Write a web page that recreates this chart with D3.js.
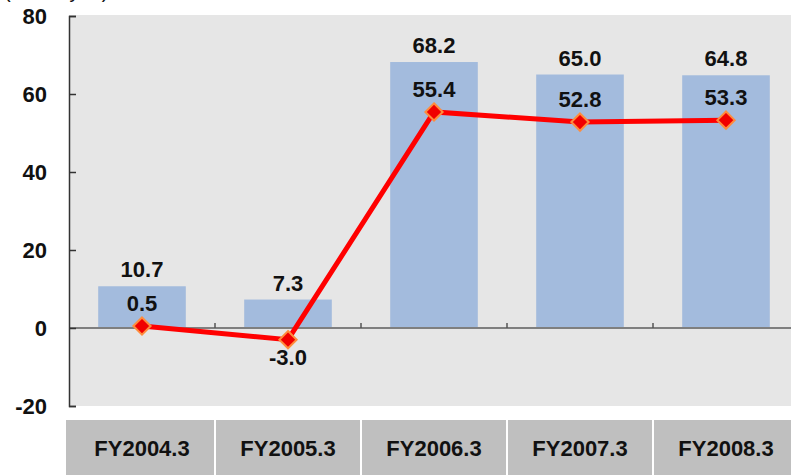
<!DOCTYPE html>
<html>
<head>
<meta charset="utf-8">
<script src="https://cdn.jsdelivr.net/npm/d3@7"></script>
<style>
  body { margin: 0; background: #fff; }
  text { font-family: "Liberation Sans", Arial, sans-serif; font-weight: bold; fill: #111; }
</style>
</head>
<body>
<svg width="791" height="475"></svg>
<script>
// chart data
var categories = ['FY2004.3', 'FY2005.3', 'FY2006.3', 'FY2007.3', 'FY2008.3'];
var barValues = [10.7, 7.3, 68.2, 65.0, 64.8];
var lineValues = [0.5, -3.0, 55.4, 52.8, 53.3];
var yTicks = [-20, 0, 20, 40, 60, 80];

var svg = d3.select('svg');
var plotLeft = 69, plotTop = 16, plotBottom = 406, band = 146;

var x = d3.scaleBand().domain(categories).range([plotLeft, plotLeft + band * categories.length]).padding(0);
var y = d3.scaleLinear().domain([-20, 80]).range([plotBottom, plotTop]);
var barW = x.bandwidth() * 0.6;
var cx = function(d) { return x(d) + x.bandwidth() / 2; };

// unit label, cut off at the top like the original
svg.append('text').attr('x', 4).attr('y', -2).style('font-size', '20px').style('font-weight', 'normal').text('(Billion yen)');

// plot background
svg.append('rect').attr('x', plotLeft).attr('y', plotTop - 1).attr('width', 791 - plotLeft).attr('height', plotBottom - plotTop + 1).attr('fill', '#e6e6e6');

// bars
svg.selectAll('rect.bar').data(barValues).enter().append('rect').attr('class', 'bar')
  .attr('x', function(d, i) { return cx(categories[i]) - barW / 2; })
  .attr('y', function(d) { return y(d); })
  .attr('width', barW)
  .attr('height', function(d) { return y(0) - y(d); })
  .attr('fill', '#a3bbdd');

// zero line with small ticks at band edges
svg.append('line').attr('x1', plotLeft).attr('x2', 791).attr('y1', y(0)).attr('y2', y(0)).attr('stroke', '#7f7f7f').attr('stroke-width', 2);
svg.selectAll('line.xtick').data(categories.slice(1)).enter().append('line').attr('class', 'xtick')
  .attr('x1', function(d) { return x(d); }).attr('x2', function(d) { return x(d); })
  .attr('y1', y(0)).attr('y2', y(0) - 5).attr('stroke', '#555').attr('stroke-width', 1.5);

// y axis: ticks inside the plot
var yAxis = d3.axisRight(y).tickValues(yTicks).tickSize(7).tickFormat('');
var ag = svg.append('g').attr('transform', 'translate(' + plotLeft + ',0)').call(yAxis);
ag.select('.domain').attr('stroke', '#333').attr('stroke-width', 1.5);
ag.selectAll('.tick line').attr('stroke', '#333').attr('stroke-width', 1.5);
svg.selectAll('text.ylab').data(yTicks).enter().append('text').attr('class', 'ylab')
  .attr('x', 47).attr('y', function(d) { return y(d) + 8; })
  .attr('text-anchor', 'end').style('font-size', '22px')
  .text(function(d) { return d; });

// bar labels
svg.selectAll('text.blab').data(barValues).enter().append('text').attr('class', 'blab')
  .attr('x', function(d, i) { return cx(categories[i]); })
  .attr('y', function(d) { return y(d) - 9; })
  .attr('text-anchor', 'middle').style('font-size', '22px')
  .text(function(d) { return d.toFixed(1); });

// line
var line = d3.line().x(function(d, i) { return cx(categories[i]); }).y(function(d) { return y(d); });
svg.append('path').datum(lineValues).attr('d', line).attr('fill', 'none').attr('stroke', '#ff0000').attr('stroke-width', 5);

// diamond markers
svg.selectAll('path.mark').data(lineValues).enter().append('path').attr('class', 'mark')
  .attr('d', d3.symbol().type(d3.symbolDiamond2).size(190))
  .attr('transform', function(d, i) { return 'translate(' + cx(categories[i]) + ',' + y(d) + ')'; })
  .attr('fill', '#f00000').attr('stroke', '#ff8c3c').attr('stroke-width', 2);

// line labels
svg.selectAll('text.llab').data(lineValues).enter().append('text').attr('class', 'llab')
  .attr('x', function(d, i) { return cx(categories[i]); })
  .attr('y', function(d) { return d < 0 ? y(d) + 25 : y(d) - 15; })
  .attr('text-anchor', 'middle').style('font-size', '22px')
  .text(function(d) { return d.toFixed(1); });

// category boxes
var cg = svg.selectAll('g.cat').data(categories).enter().append('g').attr('class', 'cat');
cg.append('rect')
  .attr('x', function(d, i) { return i == 0 ? x(d) - 3 : x(d) + 1; })
  .attr('y', 420)
  .attr('width', function(d, i) { return i == 0 ? x.bandwidth() + 2 : x.bandwidth() - 2; })
  .attr('height', 55)
  .attr('fill', '#bfbfbf');
cg.append('text')
  .attr('x', function(d) { return cx(d); })
  .attr('y', 456)
  .attr('text-anchor', 'middle').style('font-size', '22px')
  .text(function(d) { return d; });
</script>
</body>
</html>
